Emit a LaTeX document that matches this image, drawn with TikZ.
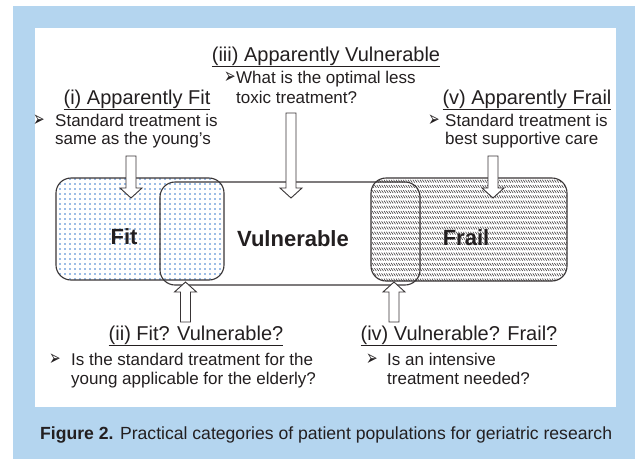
\documentclass[tikz,border=0pt]{standalone}
\usepackage{fontspec}
\setmainfont{Liberation Sans}
\newfontfamily\dejavu{DejaVu Sans}
\usetikzlibrary{patterns,calc}
\pgfdeclarepatternformonly{fitdots}{\pgfqpoint{-1pt}{-1pt}}{\pgfqpoint{1pt}{1pt}}{\pgfqpoint{5pt}{5pt}}{\pgfpathcircle{\pgfpointorigin}{0.85pt}\pgfusepath{fill}}
\pgfdeclarepatternformonly{frailhatch}{\pgfqpoint{-0.5pt}{-0.5pt}}{\pgfqpoint{3pt}{5.7pt}}{\pgfqpoint{2.4pt}{5.2pt}}{\pgfsetlinewidth{0.55pt}\pgfpathmoveto{\pgfqpoint{0pt}{3.6pt}}\pgfpathlineto{\pgfqpoint{1.9pt}{0.8pt}}\pgfusepath{stroke}}
\definecolor{bgblue}{RGB}{180,213,239}
\definecolor{dotblue}{RGB}{60,125,205}
\definecolor{ink}{RGB}{35,31,32}
\newcommand{\bul}{\raisebox{-0.5pt}{\dejavu\fontsize{14.5}{14.5}\selectfont\scalebox{0.95}[1.5]{➢}}}
\newcommand{\blockarrow}[2]{\filldraw[barrow] let \p1=(#1), \p2=(#2), \n1={sign(\y1-\y2)} in
  (\x1-5pt,\y1) -- (\x1-5pt,\y2+10pt*\n1) -- (\x1-11pt,\y2+10pt*\n1) -- (\x2,\y2)
  -- (\x1+11pt,\y2+10pt*\n1) -- (\x1+5pt,\y2+10pt*\n1) -- (\x1+5pt,\y1) -- cycle;}
\begin{document}
\begin{tikzpicture}[x=1pt,y=-1pt,
  catbox/.style={draw=ink!90, line width=1.1pt, rounded corners=15pt, inner sep=0pt},
  barrow/.style={draw=ink!90, fill=white, line width=0.9pt, line join=miter},
  body/.style={font=\fontsize{17}{19}\selectfont, text=ink, inner sep=0pt, anchor=base west},
  ttl/.style={font=\fontsize{20}{22}\selectfont, text=ink, inner sep=0pt, anchor=base},
  lbl/.style={font=\fontsize{22}{24}\selectfont\bfseries, text=ink, inner sep=0pt, anchor=base},
  captext/.style={font=\fontsize{17.6}{19}\selectfont, text=ink, inner sep=0pt, anchor=base west}]
\useasboundingbox (0,0) rectangle (635,459);
\fill[bgblue] (13,6) rectangle (635,459);
\fill[white] (35,28) rectangle (616,407);

% category boxes
\node[catbox, pattern=fitdots, pattern color=dotblue, minimum width=168pt, minimum height=102pt] (fit) at (140,229) {};
\node[catbox, pattern=frailhatch, pattern color=ink!90, minimum width=196pt, minimum height=103pt] (frail) at (469,229.5) {};
\node[catbox, minimum width=260pt, minimum height=103pt] (vul) at (290,233.5) {};

\node[lbl] (fitlbl) at (124,244) {Fit};
\node[lbl] (vullbl) at (293,246) {Vulnerable};
\node[lbl] (fraillbl) at (466,245) {Frail};

% arrows
\coordinate (a1s) at (131,156); \coordinate (a1e) at (131,198);
\coordinate (a3s) at (291,113); \coordinate (a3e) at (291,198);
\coordinate (a5s) at (493,156); \coordinate (a5e) at (493,198);
\coordinate (a2s) at (185.5,322); \coordinate (a2e) at (185.5,282);
\coordinate (a4s) at (394,322); \coordinate (a4e) at (394,282);
\blockarrow{a1s}{a1e}
\blockarrow{a3s}{a3e}
\blockarrow{a5s}{a5e}
\blockarrow{a2s}{a2e}
\blockarrow{a4s}{a4e}

% (iii)
\node[ttl] (t3) at (326,61) {\underline{(iii) Apparently Vulnerable}};
\node[body] (b3a) at (224,83) {\makebox[12pt][l]{\bul}What is the optimal less};
\node[body] (b3b) at (236,103) {toxic treatment?};
% (i)
\node[ttl] (t1) at (137,104) {\underline{(i) Apparently Fit}};
\node[body] (b1a) at (33,126) {\makebox[22pt][l]{\bul}Standard treatment is};
\node[body] (b1b) at (55,144) {same as the young’s};
% (v)
\node[ttl] (t5) at (527,104) {\underline{(v) Apparently Frail}};
\node[body] (b5a) at (428,126) {\makebox[17pt][l]{\bul}Standard treatment is};
\node[body] (b5b) at (445,144) {best supportive care};
% (ii)
\node[ttl] (t2) at (196,340) {\underline{(ii) Fit? Vulnerable?}};
\node[body] (b2a) at (49,365) {\makebox[22pt][l]{\bul}Is the standard treatment for the};
\node[body] (b2b) at (71,384) {young applicable for the elderly?};
% (iv)
\node[ttl] (t4) at (459,340) {\underline{(iv) Vulnerable? Frail?}};
\node[body] (b4a) at (366,365) {\makebox[21pt][l]{\bul}Is an intensive};
\node[body] (b4b) at (387,384) {treatment needed?};

% caption
\node[captext] (caption) at (40,439) {\textbf{Figure 2.} Practical categories of patient populations for geriatric research};
\end{tikzpicture}
\end{document}
